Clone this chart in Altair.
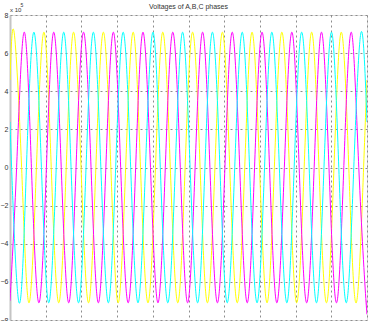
import altair as alt
import pandas as pd

# time in ms, voltage in units of 1e5 V
t_a = [0.0,
       2.3, 6.5, 10.6, 14.8, 19.0, 23.1, 27.3, 31.5, 35.6, 39.8, 44.0, 48.1,
       52.3, 56.5, 60.6, 64.8, 69.0, 73.1, 77.3, 81.5, 85.6, 89.8, 94.0, 98.1,
       102.3, 106.5, 110.6, 114.8, 119.0, 123.1, 127.3, 131.5, 135.6, 139.8, 144.0, 148.1,
       152.3, 156.5, 160.6, 164.8, 169.0, 173.1, 177.3, 181.5, 185.6, 189.8, 194.0, 198.1,
       200.0]
v_a = [4.59,
       7.1, 0, -7.1, 0, 7.1, 0, -7.1, 0, 7.1, 0, -7.1, 0,
       7.1, 0, -7.1, 0, 7.1, 0, -7.1, 0, 7.1, 0, -7.1, 0,
       7.1, 0, -7.1, 0, 7.1, 0, -7.1, 0, 7.1, 0, -7.1, 0,
       7.1, 0, -7.1, 0, 7.1, 0, -7.1, 0, 7.1, 0, -7.1, 0,
       4.59]

t_b = [0.0,
       3.7, 7.9, 12.0, 16.2, 20.4, 24.5, 28.7, 32.9, 37.0, 41.2, 45.4, 49.5,
       53.7, 57.9, 62.0, 66.2, 70.4, 74.5, 78.7, 82.9, 87.0, 91.2, 95.4, 99.5,
       103.7, 107.9, 112.0, 116.2, 120.4, 124.5, 128.7, 132.9, 137.0, 141.2, 145.4, 149.5,
       153.7, 157.9, 162.0, 166.2, 170.4, 174.5, 178.7, 182.9, 187.0, 191.2, 195.4, 199.5,
       200.0]
v_b = [-6.99,
       0, 7.1, 0, -7.1, 0, 7.1, 0, -7.1, 0, 7.1, 0, -7.1,
       0, 7.1, 0, -7.1, 0, 7.1, 0, -7.1, 0, 7.1, 0, -7.1,
       0, 7.1, 0, -7.1, 0, 7.1, 0, -7.1, 0, 7.1, 0, -7.1,
       0, 7.1, 0, -7.1, 0, 7.1, 0, -7.1, 0, 7.1, 0, -7.1,
       -6.99]

t_c = [0.0,
       0.9, 5.1, 9.2, 13.4, 17.6, 21.7, 25.9, 30.1, 34.2, 38.4, 42.6, 46.7,
       50.9, 55.1, 59.2, 63.4, 67.6, 71.7, 75.9, 80.1, 84.2, 88.4, 92.6, 96.7,
       100.9, 105.1, 109.2, 113.4, 117.6, 121.7, 125.9, 130.1, 134.2, 138.4, 142.6, 146.7,
       150.9, 155.1, 159.2, 163.4, 167.6, 171.7, 175.9, 180.1, 184.2, 188.4, 192.6, 196.7,
       200.0]
v_c = [2.39,
       0, -7.1, 0, 7.1, 0, -7.1, 0, 7.1, 0, -7.1, 0, 7.1,
       0, -7.1, 0, 7.1, 0, -7.1, 0, 7.1, 0, -7.1, 0, 7.1,
       0, -7.1, 0, 7.1, 0, -7.1, 0, 7.1, 0, -7.1, 0, 7.1,
       0, -7.1, 0, 7.1, 0, -7.1, 0, 7.1, 0, -7.1, 0, 7.1,
       2.39]

series_names = ["A", "B", "C"]
series_colors = ["#ffff00", "#ff00ff", "#00ffff"]
x_ticks = [0, 20, 40, 60, 80, 100, 120, 140, 160, 180, 200]
y_ticks = [-8, -6, -4, -2, 0, 2, 4, 6, 8]
title_text = "Voltages of A,B,C phases"

rows = []
for name, ts, vs in zip(series_names, [t_a, t_b, t_c], [v_a, v_b, v_c]):
    for i, (t, v) in enumerate(zip(ts, vs)):
        rows.append({"phase": name, "t": t, "v": v, "i": i})
df = pd.DataFrame(rows)

FONT = "Liberation Sans"

lines = alt.Chart(df).mark_line(interpolate="natural", strokeWidth=1, clip=True).encode(
    x=alt.X("t:Q", scale=alt.Scale(domain=[0, 200], nice=False),
            axis=alt.Axis(values=x_ticks, labels=False, ticks=False, domain=False,
                          title=None, grid=True, gridColor="#8c8c8c",
                          gridDash=[2, 3], gridWidth=1)),
    y=alt.Y("v:Q", scale=alt.Scale(domain=[-8, 8], nice=False),
            axis=alt.Axis(values=y_ticks, ticks=False, domain=True,
                          domainColor="#c4c4c4", domainWidth=2,
                          labelFontSize=7, labelFont=FONT, labelColor="#333333",
                          labelPadding=2, title=None, grid=True,
                          gridColor="#8c8c8c", gridDash=[2, 3], gridWidth=1)),
    color=alt.Color("phase:N", scale=alt.Scale(domain=series_names, range=series_colors),
                    legend=None),
    order="i:Q",
)

one = pd.DataFrame({"a": [0]})
exp_base = alt.Chart(one).mark_text(text="x 10", fontSize=6, font=FONT, color="#333333",
                                    align="left", baseline="alphabetic").encode(
    x=alt.value(0), y=alt.value(-3))
exp_sup = alt.Chart(one).mark_text(text="5", fontSize=5, font=FONT, color="#333333",
                                   align="left", baseline="alphabetic").encode(
    x=alt.value(10.5), y=alt.value(-8))
title_mark = alt.Chart(one).mark_text(text=title_text, fontSize=7, font=FONT,
                                      color="#333333", align="center",
                                      baseline="alphabetic").encode(
    x=alt.value(178.5), y=alt.value(-6))

chart = alt.layer(lines, exp_base, exp_sup, title_mark).properties(
    width=357, height=305,
    autosize=alt.AutoSizeParams(type="none"),
    padding={"left": 10, "top": 15, "right": 6, "bottom": 1},
).configure_view(stroke="#7a7a7a", strokeWidth=1).configure(background="white")

chart.save("out.html", embed_options={"renderer": "svg", "actions": False})
